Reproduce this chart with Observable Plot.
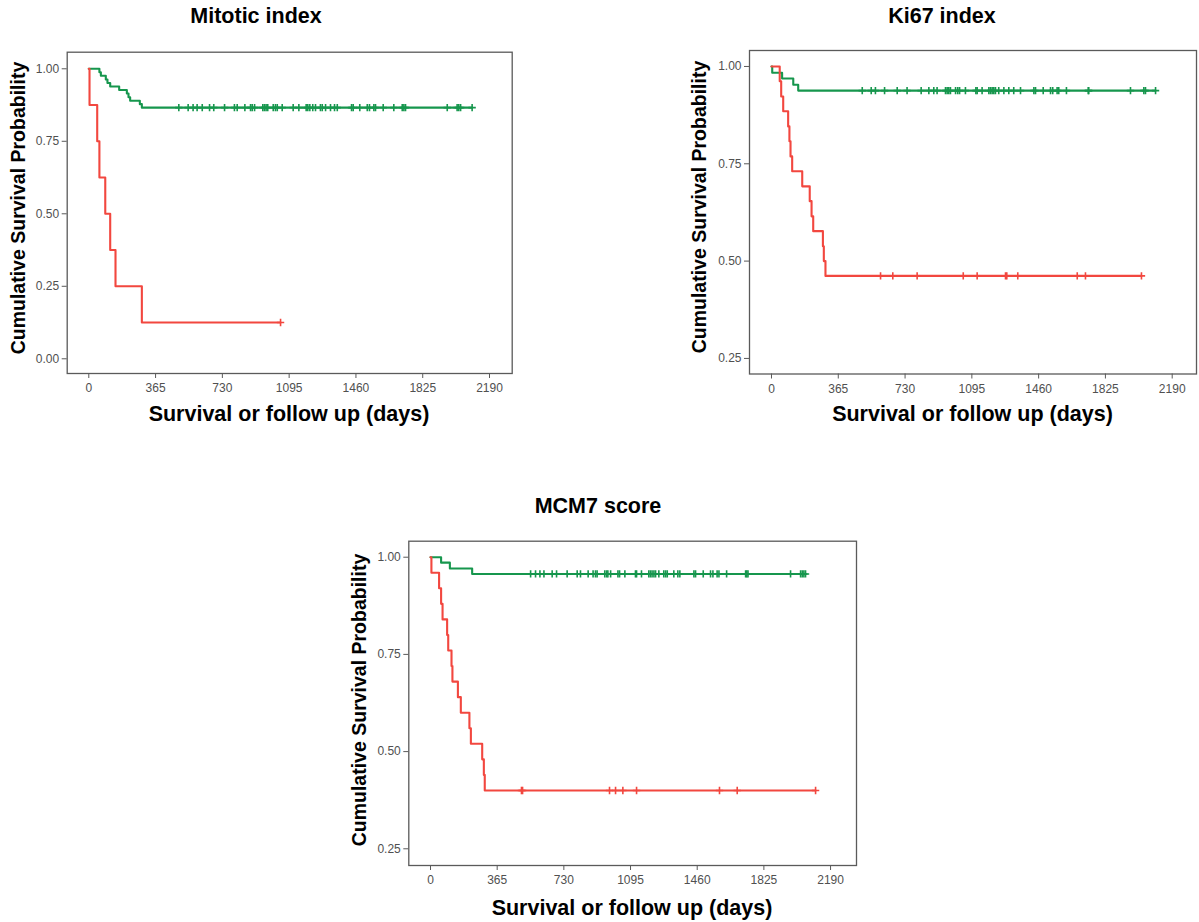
<!DOCTYPE html>
<html><head><meta charset="utf-8">
<script src="https://cdn.jsdelivr.net/npm/d3@7"></script>
<script src="https://cdn.jsdelivr.net/npm/@observablehq/plot@0.6"></script>
<style>
body{margin:0;background:#fff;font-family:"Liberation Sans",Arial,sans-serif;}
#root{position:relative;width:1199px;height:922px;overflow:hidden;background:#fff;}
.t{position:absolute;font-weight:bold;color:#000;white-space:nowrap;transform:translate(-50%,-50%);line-height:1;}
.panel{position:absolute;}
.yl{position:absolute;font-weight:bold;color:#000;white-space:nowrap;line-height:1;transform:translate(-50%,-50%) rotate(-90deg);}
</style></head><body><div id="root"></div>
<script>
// ---------- shared tick labels ----------
const dayTicks = [0, 365, 730, 1095, 1460, 1825, 2190];
const probTicksFull = [0, 0.25, 0.5, 0.75, 1];
const probTicksUpper = [0.25, 0.5, 0.75, 1];
const panelTitles = ["Mitotic index", "Ki67 index", "MCM7 score"];
const xTitle = "Survival or follow up (days)";
const yTitle = "Cumulative Survival Probability";

// ---------- Mitotic index ----------
const mitHighTimes = [0, 4, 46, 58, 90, 117, 146, 290];
const mitHighSurv  = [1, 0.875, 0.75, 0.625, 0.5, 0.375, 0.25, 0.125];
const mitHighCensor = [1048];
const mitLowTimes = [0, 58, 66, 93, 102, 117, 166, 208, 217, 226, 279, 290];
const mitLowSurv  = [1, 0.988, 0.976, 0.963, 0.951, 0.939, 0.927, 0.915, 0.902, 0.890, 0.878, 0.866];
const mitLowCensor = [492, 543, 570, 592, 620, 660, 683, 742, 796, 811, 853, 884, 893, 906, 951, 960, 969, 978,
  1008, 1020, 1030, 1057, 1117, 1148, 1188, 1197, 1208, 1224, 1239, 1266, 1276, 1294, 1321, 1343, 1358, 1436,
  1445, 1481, 1522, 1534, 1558, 1567, 1609, 1667, 1713, 1722, 1731, 1959, 2013, 2022, 2032, 2095];

// ---------- Ki67 index ----------
const kiHighTimes = [0, 45, 53, 64, 91, 98, 104, 113, 168, 209, 219, 228, 281, 286, 295];
const kiHighSurv  = [1, 0.962, 0.923, 0.885, 0.846, 0.808, 0.769, 0.731, 0.692, 0.654, 0.615, 0.577, 0.538, 0.500, 0.462];
const kiHighCensor = [596, 663, 796, 1048, 1124, 1279, 1286, 1346, 1671, 1716, 2022];
const kiLowTimes = [0, 4, 58, 119, 146];
const kiLowSurv  = [1, 0.984, 0.969, 0.953, 0.938];
const kiLowCensor = [496, 545, 568, 618, 687, 741, 818, 860, 887, 905, 951, 960, 969, 978, 1006, 1018, 1028,
  1060, 1117, 1124, 1151, 1188, 1197, 1206, 1215, 1224, 1242, 1270, 1297, 1324, 1361, 1434, 1443, 1485, 1525,
  1537, 1561, 1570, 1612, 1731, 1734, 1962, 2035, 2044, 2099];

// ---------- MCM7 score ----------
const mcmHighTimes = [0, 5, 47, 58, 66, 91, 97, 115, 120, 150, 166, 213, 221, 283, 292, 297];
const mcmHighSurv  = [1, 0.96, 0.92, 0.88, 0.84, 0.80, 0.76, 0.72, 0.68, 0.64, 0.60, 0.56, 0.52, 0.48, 0.44, 0.40];
const mcmHighCensor = [498, 504, 980, 1013, 1053, 1128, 1582, 1679, 2108];
const mcmLowTimes = [0, 58, 106, 228];
const mcmLowSurv  = [1, 0.986, 0.971, 0.957];
const mcmLowCensor = [548, 575, 599, 621, 666, 690, 748, 803, 821, 863, 890, 903, 912, 954, 964, 971, 986, 1026,
  1035, 1064, 1122, 1128, 1155, 1195, 1204, 1213, 1223, 1232, 1250, 1277, 1287, 1296, 1332, 1354, 1365, 1442,
  1451, 1493, 1533, 1546, 1569, 1579, 1621, 1725, 1731, 1738, 1971, 2026, 2035, 2044, 2053];

const GREEN = "#16964d";
const RED = "#f2473f";

function kmCurve(times, surv, censor) {
  const pts = times.map((t, i) => ({t, s: surv[i]}));
  const end = d3.max([...times, ...censor]);
  pts.push({t: end, s: surv[surv.length - 1]});
  const survAt = c => surv[d3.bisectRight(times, c) - 1];
  const cens = censor.map(c => ({t: c, s: survAt(c)}));
  return {pts, cens};
}

function panel(cfg) {
  const marks = [Plot.frame({stroke: "#5a5a5a", strokeWidth: 1.3})];
  for (const g of cfg.groups) {
    const {pts, cens} = kmCurve(g.times, g.surv, g.censor);
    marks.push(Plot.line(pts, {x: "t", y: "s", curve: "step-after", stroke: g.color, strokeWidth: 2.1}));
    marks.push(Plot.dot(cens, {x: "t", y: "s", symbol: "plus", r: 2.5, stroke: g.color, strokeWidth: 1.6}));
  }
  marks.push(Plot.axisX({ticks: dayTicks, tickSize: 5, tickPadding: 5, label: null, tickFormat: d => String(d), stroke: "#5a5a5a"}));
  marks.push(Plot.axisY({ticks: cfg.yTicks, tickSize: 5, tickPadding: 3, label: null, tickFormat: d3.format(".2f"), stroke: "#5a5a5a"}));
  const svg = Plot.plot({
    width: cfg.width, height: cfg.height,
    marginLeft: cfg.ml, marginRight: cfg.mr, marginTop: cfg.mt, marginBottom: cfg.mb,
    x: {domain: cfg.xDomain, axis: null},
    y: {domain: cfg.yDomain, axis: null},
    style: {fontSize: "12px", fontFamily: "'Liberation Sans', Arial, sans-serif", color: "#505050", background: "transparent", overflow: "visible"},
    marks
  });
  const div = document.createElement("div");
  div.className = "panel";
  div.style.left = cfg.left + "px";
  div.style.top = cfg.top + "px";
  div.appendChild(svg);
  root.appendChild(div);
}

function text(cls, str, x, y, size) {
  const d = document.createElement("div");
  d.className = cls;
  d.textContent = str;
  d.style.left = x + "px";
  d.style.top = y + "px";
  d.style.fontSize = size + "px";
  root.appendChild(d);
}

const root = document.getElementById("root");

panel({left: 0, top: 40, width: 520, height: 400, ml: 66.7, mr: 8.3, mt: 11.7, mb: 67,
  xDomain: [-118, 2314], yDomain: [-0.0507, 1.0572], yTicks: probTicksFull,
  groups: [
    {times: mitLowTimes, surv: mitLowSurv, censor: mitLowCensor, color: GREEN},
    {times: mitHighTimes, surv: mitHighSurv, censor: mitHighCensor, color: RED}
  ]});
panel({left: 680, top: 40, width: 519, height: 400, ml: 69, mr: 3, mt: 10, mb: 66.5,
  xDomain: [-120.2, 2322.8], yDomain: [0.210, 1.041], yTicks: probTicksUpper,
  groups: [
    {times: kiLowTimes, surv: kiLowSurv, censor: kiLowCensor, color: GREEN},
    {times: kiHighTimes, surv: kiHighSurv, censor: kiHighCensor, color: RED}
  ]});
panel({left: 340, top: 530, width: 530, height: 392, ml: 68.3, mr: 14, mt: 10.7, mb: 57,
  xDomain: [-118.8, 2332], yDomain: [0.207, 1.0412], yTicks: probTicksUpper,
  groups: [
    {times: mcmLowTimes, surv: mcmLowSurv, censor: mcmLowCensor, color: GREEN},
    {times: mcmHighTimes, surv: mcmHighSurv, censor: mcmHighCensor, color: RED}
  ]});

text("t", panelTitles[0], 256, 17, 21.5);
text("t", panelTitles[1], 942, 17, 21.5);
text("t", panelTitles[2], 598, 507, 21.5);
text("t", xTitle, 289, 415, 21.5);
text("t", xTitle, 972.5, 415, 21.5);
text("t", xTitle, 632, 909, 21.5);
text("yl", yTitle, 19, 208, 19.5);
text("yl", yTitle, 700, 207, 19.5);
text("yl", yTitle, 360, 700, 19.5);
</script>
</body></html>
